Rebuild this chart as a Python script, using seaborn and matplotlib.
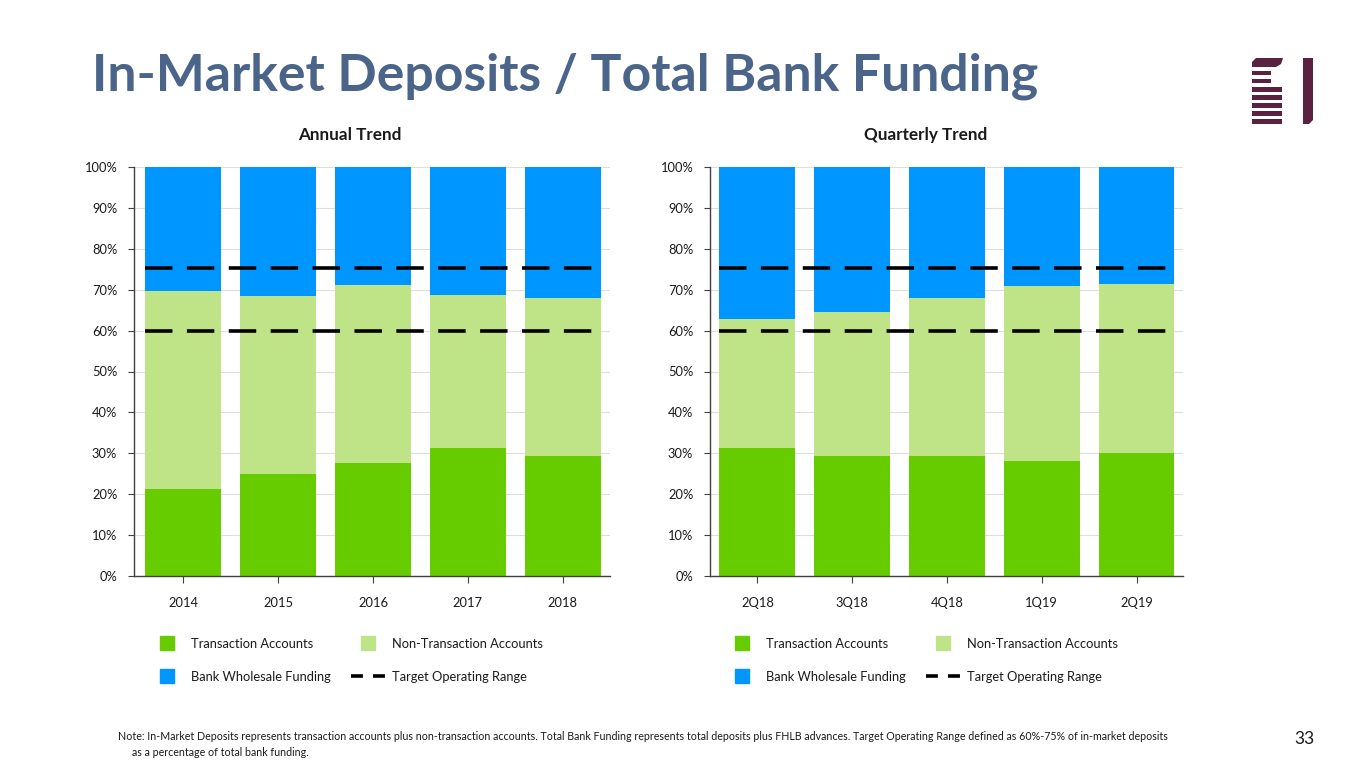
import matplotlib
matplotlib.use("Agg")
import matplotlib.pyplot as plt
from matplotlib.patches import Rectangle, Polygon
from matplotlib.lines import Line2D
import seaborn as sns
import pandas as pd
import numpy as np

# ---------------- data ----------------
annual_labels = ["2014", "2015", "2016", "2017", "2018"]
annual_transaction = [21.3, 24.9, 27.6, 31.3, 29.3]
annual_in_market = [69.7, 68.5, 71.2, 68.7, 68.0]   # transaction + non-transaction
annual_total = [100, 100, 100, 100, 100]

quarter_labels = ["2Q18", "3Q18", "4Q18", "1Q19", "2Q19"]
quarter_transaction = [31.3, 29.3, 29.3, 28.1, 30.1]
quarter_in_market = [62.8, 64.5, 68.0, 70.8, 71.4]
quarter_total = [100, 100, 100, 100, 100]

target_low = 60
target_high = 75.3

yticks = [0, 10, 20, 30, 40, 50, 60, 70, 80, 90, 100]

C_TRANS = "#66CC00"
C_NONTRANS = "#BFE488"
C_WHOLESALE = "#0096FF"
C_TITLE = "#4A6589"
C_LOGO = "#5B2141"

sns.set_theme(style="white")
plt.rcParams["font.family"] = ["Lato", "DejaVu Sans"]

W, H = 1365, 768
fig = plt.figure(figsize=(W / 100, H / 100), dpi=100)


def px_rect(x0, y0, x1, y1):
    return [x0 / W, 1 - y1 / H, (x1 - x0) / W, (y1 - y0) / H]


def draw_panel(ax, labels, trans, inmkt, total, xlim):
    df = pd.DataFrame({"cat": labels, "trans": trans, "inmkt": inmkt, "total": total})
    sns.barplot(data=df, x="cat", y="total", color=C_WHOLESALE, width=0.8,
                saturation=1, ax=ax, zorder=2)
    sns.barplot(data=df, x="cat", y="inmkt", color=C_NONTRANS, width=0.8,
                saturation=1, ax=ax, zorder=2)
    sns.barplot(data=df, x="cat", y="trans", color=C_TRANS, width=0.8,
                saturation=1, ax=ax, zorder=2)
    for p in ax.patches:
        p.set_edgecolor("none")
        p.set_linewidth(0)
    for lvl in (target_low, target_high):
        ax.plot([-0.4, len(labels) - 0.6], [lvl, lvl], color="black", lw=2.6,
                dashes=(7.6, 4.0), solid_capstyle="butt", dash_capstyle="butt",
                zorder=4)
    ax.set_xlim(*xlim)
    ax.set_ylim(0, 100)
    ax.set_yticks(yticks)
    ax.set_yticklabels([f"{v}%" for v in yticks])
    ax.set_xlabel("")
    ax.set_ylabel("")
    ax.grid(axis="y", color="#DEDEDE", lw=0.8, zorder=0)
    ax.set_axisbelow(True)
    for s in ("top", "right"):
        ax.spines[s].set_visible(False)
    ax.spines["left"].set_color("#404040")
    ax.spines["left"].set_linewidth(1.0)
    ax.spines["bottom"].set_color("#404040")
    ax.spines["bottom"].set_linewidth(1.0)
    ax.tick_params(axis="y", which="both", left=True, length=4, width=0.8,
                   color="#404040", pad=8, labelsize=9.3, labelcolor="#1a1a1a")
    ax.tick_params(axis="x", which="both", bottom=True, length=5, width=0.8,
                   color="#404040", pad=10, labelsize=9.3, labelcolor="#1a1a1a")


ax1 = fig.add_axes(px_rect(134, 167, 610, 576))
draw_panel(ax1, annual_labels, annual_transaction, annual_in_market, annual_total,
           (-0.52, 4.5))
ax2 = fig.add_axes(px_rect(710, 167, 1183, 576))
draw_panel(ax2, quarter_labels, quarter_transaction, quarter_in_market, quarter_total,
           (-0.5, 4.49))

fig.text(350 / W, 1 - 135 / H, "Annual Trend", fontsize=12.3, fontweight="bold",
         color="#1a1a1a", ha="center", va="center")
fig.text(926 / W, 1 - 135 / H, "Quarterly Trend", fontsize=12.3, fontweight="bold",
         color="#1a1a1a", ha="center", va="center")


# legends
def make_legend(x_px):
    handles = [
        Line2D([], [], marker="s", ls="none", color=C_TRANS, markersize=9.5),
        Line2D([], [], marker="s", ls="none", color=C_WHOLESALE, markersize=9.5),
        Line2D([], [], marker="s", ls="none", color=C_NONTRANS, markersize=9.5),
        Line2D([], [], color="black", lw=2.6, dashes=(3.3, 2.8),
               dash_capstyle="butt"),
    ]
    labels = ["Transaction Accounts", "Bank Wholesale Funding",
              "Non-Transaction Accounts", "Target Operating Range"]
    leg = fig.legend(handles, labels, ncol=2, frameon=False,
                     loc="upper left", bbox_to_anchor=(x_px / W, 1 - 638 / H),
                     fontsize=9.3, handlelength=2.65, handletextpad=0.5,
                     columnspacing=1.6, labelspacing=1.62, borderpad=0,
                     borderaxespad=0)
    for t in leg.get_texts():
        t.set_color("#1a1a1a")
    return leg

make_legend(150)
make_legend(725)

# title
fig.text(92 / W, 1 - 90 / H, "In-Market Deposits / Total Bank Funding",
         fontsize=37.3, fontweight="bold", color=C_TITLE, va="baseline", ha="left")

# footnote
fig.text(118 / W, 1 - 736 / H,
         "Note: In-Market Deposits represents transaction accounts plus non-transaction accounts. "
         "Total Bank Funding represents total deposits plus FHLB advances. Target Operating Range "
         "defined as 60%-75% of in-market deposits",
         fontsize=7.7, color="#1a1a1a", va="center", ha="left")
fig.text(132 / W, 1 - 752 / H, "as a percentage of total bank funding.",
         fontsize=7.7, color="#1a1a1a", va="center", ha="left")
fig.text(1315 / W, 1 - 739 / H, "33", fontsize=12.5, color="#1a1a1a",
         va="center", ha="right")


# logo
def logo_rect(x0, y0, x1, y1):
    fig.add_artist(Rectangle((x0 / W, 1 - y1 / H), (x1 - x0) / W, (y1 - y0) / H,
                             transform=fig.transFigure, facecolor=C_LOGO,
                             edgecolor="none"))


def fpt(x, y):
    return (x / W, 1 - y / H)

# top slanted cap
fig.add_artist(Polygon([fpt(1252, 67), fpt(1252, 62), fpt(1256, 58), fpt(1283, 58),
                        fpt(1281, 64), fpt(1276, 67)], closed=True,
                       transform=fig.transFigure, facecolor=C_LOGO, edgecolor="none"))
logo_rect(1252, 71, 1271, 75)
logo_rect(1252, 79, 1271, 83)
for y in (87, 95, 103, 111, 119):
    logo_rect(1252, y, 1282, y + 5)
fig.add_artist(Polygon([fpt(1303, 58), fpt(1313, 58), fpt(1313, 120), fpt(1309, 124),
                        fpt(1303, 124)], closed=True,
                       transform=fig.transFigure, facecolor=C_LOGO, edgecolor="none"))

fig.savefig("out.png", dpi=100)
